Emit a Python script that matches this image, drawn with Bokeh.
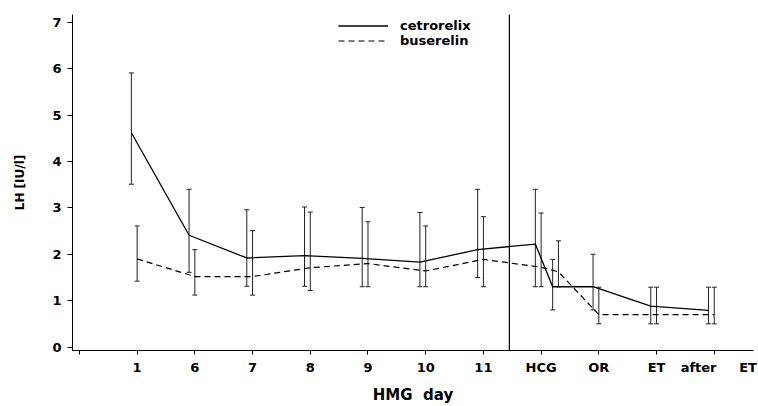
from bokeh.plotting import figure
from bokeh.models import (ColumnDataSource, Whisker, Span, Legend, LegendItem,
                          FixedTicker, Range1d, TeeHead)
from bokeh.transform import dodge
from bokeh.embed import file_html
from bokeh.resources import INLINE

# ---- data ----
x_pos = [1, 2, 3, 4, 5, 6, 7, 8, 8.3, 9, 10, 11]
x_ticks = [0, 1, 2, 3, 4, 5, 6, 7, 8, 9, 10, 11]
x_tick_labels = ["", "1", "6", "7", "8", "9", "10", "11", "HCG", "OR", "ET",
                 "\u00a0\u00a0after\u00a0\u00a0\u00a0\u00a0\u00a0ET"]
y_ticks = [0, 1, 2, 3, 4, 5, 6, 7]

cetro_mean = [4.62, 2.41, 1.92, 1.97, 1.91, 1.83, 2.10, 2.22, 1.30, 1.30, 0.88, 0.79]
cetro_low = [3.51, 1.61, 1.31, 1.31, 1.30, 1.30, 1.50, 1.30, 0.80, 0.80, 0.50, 0.50]
cetro_up = [5.91, 3.40, 2.96, 3.02, 3.01, 2.90, 3.40, 3.40, 1.89, 2.00, 1.29, 1.29]

buser_mean = [1.90, 1.52, 1.52, 1.71, 1.80, 1.64, 1.89, 1.72, 1.62, 0.70, 0.70, 0.70]
buser_low = [1.42, 1.12, 1.12, 1.22, 1.30, 1.30, 1.30, 1.30, 1.30, 0.50, 0.50, 0.50]
buser_up = [2.61, 2.10, 2.51, 2.91, 2.70, 2.61, 2.81, 2.89, 2.29, 1.29, 1.29, 1.29]

hcg_split = 7.45

FONT = "DejaVu Sans"

src_c = ColumnDataSource(dict(x=x_pos, y=cetro_mean, lower=cetro_low, upper=cetro_up))
src_b = ColumnDataSource(dict(x=x_pos, y=buser_mean, lower=buser_low, upper=buser_up))

p = figure(width=758, height=406, output_backend="svg", toolbar_location=None,
           x_range=Range1d(-0.12, 11.68), y_range=Range1d(-0.075, 7.17),
           min_border_left=72, min_border_right=5, min_border_top=14,
           min_border_bottom=56)
p.outline_line_color = None
p.xgrid.visible = False
p.ygrid.visible = False
p.background_fill_color = "white"

cx = dodge("x", -0.1, range=p.x_range)

r_c = p.line(x=cx, y="y", source=src_c, line_color="black", line_width=1.3)
r_b = p.line(x="x", y="y", source=src_b, line_color="black", line_width=1.2,
             line_dash="6 4")

wc = Whisker(base=cx, upper="upper", lower="lower", source=src_c,
             line_color="#222222", line_width=1,
             upper_head=TeeHead(size=5, line_color="#222222", line_width=1),
             lower_head=TeeHead(size=5, line_color="#222222", line_width=1))
wb = Whisker(base="x", upper="upper", lower="lower", source=src_b,
             line_color="#222222", line_width=1,
             upper_head=TeeHead(size=5, line_color="#222222", line_width=1),
             lower_head=TeeHead(size=5, line_color="#222222", line_width=1))
p.add_layout(wc)
p.add_layout(wb)

p.add_layout(Span(location=hcg_split, dimension="height", line_color="black",
                  line_width=1.2))

# axes
p.xaxis.ticker = FixedTicker(ticks=x_ticks)
p.xaxis.major_label_overrides = {t: l for t, l in zip(x_ticks, x_tick_labels)}
p.yaxis.ticker = FixedTicker(ticks=y_ticks)
for ax in (p.xaxis, p.yaxis):
    ax.minor_tick_line_color = None
    ax.major_tick_in = 0
    ax.axis_line_color = "black"
    ax.major_tick_line_color = "black"
    ax.major_label_text_font = FONT
    ax.major_label_text_font_style = "bold"
    ax.major_label_text_font_size = "13px"
    ax.major_label_text_color = "black"
    ax.axis_label_text_font = FONT
    ax.axis_label_text_font_style = "bold"
    ax.axis_label_text_color = "black"
p.xaxis.major_tick_out = 4
p.xaxis.major_label_standoff = 5
p.xaxis.axis_label = "HMG\u00a0\u00a0day"
p.xaxis.axis_label_text_font_size = "15px"
p.xaxis.axis_label_standoff = 8
p.yaxis.major_tick_out = 5
p.yaxis.major_label_standoff = 6
p.yaxis.axis_label = "LH [IU/l]"
p.yaxis.axis_label_text_font_size = "12px"
p.yaxis.axis_label_standoff = 22

legend = Legend(items=[LegendItem(label="cetrorelix", renderers=[r_c]),
                       LegendItem(label="buserelin", renderers=[r_b])],
                location=(266, 302), orientation="vertical",
                glyph_width=50, glyph_height=13, label_height=13,
                label_standoff=12, spacing=0, padding=0, margin=0,
                border_line_color=None, background_fill_alpha=0,
                label_text_font=FONT, label_text_font_style="bold",
                label_text_font_size="13px", label_text_color="black")
p.add_layout(legend)

open("out.html", "w").write(file_html(p, INLINE))
